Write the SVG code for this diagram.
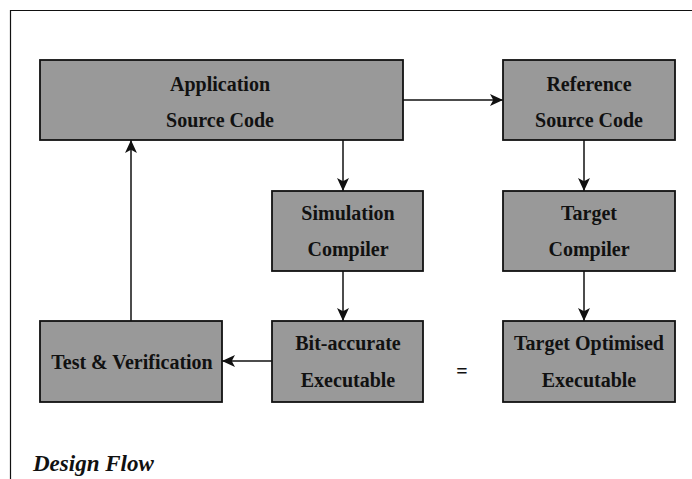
<svg xmlns="http://www.w3.org/2000/svg" width="692" height="479" viewBox="0 0 692 479">
<style>
.box{fill:#999999;stroke:#111;stroke-width:1.8}
.t{font-family:"Liberation Serif","Times New Roman",serif;font-weight:bold;font-size:20px;fill:#111;text-anchor:middle}
.c{fill:none;stroke:#111;stroke-width:1.5}
</style>
<defs>
<marker id="ah" viewBox="0 0 12 12" refX="12" refY="6" markerWidth="13" markerHeight="13" markerUnits="userSpaceOnUse" orient="auto">
<path d="M0,0.5 L12,6 L0,11.5 L3,6 Z" fill="#111"/>
</marker>
</defs>
<rect width="692" height="479" fill="#fff"/>
<path d="M10.5,479 V10.5 H692" fill="none" stroke="#111" stroke-width="1.2"/>
<g id="connectors">
<line class="c" x1="403" y1="100" x2="503" y2="100" marker-end="url(#ah)"/>
<line class="c" x1="343" y1="140" x2="343" y2="191" marker-end="url(#ah)"/>
<line class="c" x1="343" y1="271" x2="343" y2="321" marker-end="url(#ah)"/>
<line class="c" x1="584" y1="140" x2="584" y2="191" marker-end="url(#ah)"/>
<line class="c" x1="584" y1="271" x2="584" y2="321" marker-end="url(#ah)"/>
<line class="c" x1="272" y1="361" x2="222" y2="361" marker-end="url(#ah)"/>
<line class="c" x1="131" y1="321" x2="131" y2="140" marker-end="url(#ah)"/>
</g>
<g id="app">
<rect class="box" x="40" y="60" width="363" height="80"/>
<text class="t" x="220" y="91">Application</text>
<text class="t" x="220" y="127">Source Code</text>
</g>
<g id="ref">
<rect class="box" x="503" y="60" width="172" height="80"/>
<text class="t" x="589" y="91">Reference</text>
<text class="t" x="589" y="127">Source Code</text>
</g>
<g id="sim">
<rect class="box" x="272" y="191" width="151" height="80"/>
<text class="t" x="348" y="220">Simulation</text>
<text class="t" x="348" y="256">Compiler</text>
</g>
<g id="target">
<rect class="box" x="503" y="191" width="172" height="80"/>
<text class="t" x="589" y="220">Target</text>
<text class="t" x="589" y="256">Compiler</text>
</g>
<g id="bit">
<rect class="box" x="272" y="321" width="151" height="81"/>
<text class="t" x="348" y="350">Bit-accurate</text>
<text class="t" x="348" y="387">Executable</text>
</g>
<g id="opt">
<rect class="box" x="503" y="321" width="172" height="81"/>
<text class="t" x="589" y="350">Target Optimised</text>
<text class="t" x="589" y="387">Executable</text>
</g>
<g id="test">
<rect class="box" x="40" y="321" width="182" height="81"/>
<text class="t" x="132" y="369">Test &amp; Verification</text>
</g>
<text class="t" x="462" y="378">=</text>
<text x="33" y="471" style="font-family:'Liberation Serif','Times New Roman',serif;font-weight:bold;font-style:italic;font-size:23px;fill:#111">Design Flow</text>
</svg>
